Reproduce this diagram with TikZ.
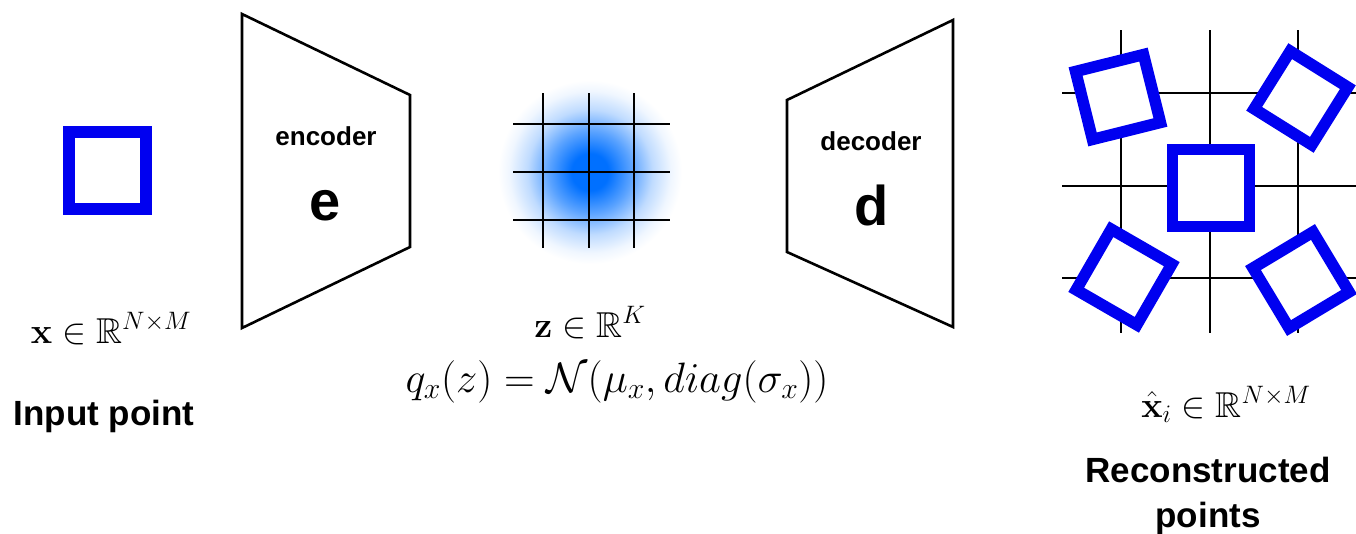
\RequirePackage{fix-cm}
\documentclass[tikz,border=0pt]{standalone}
\usepackage{amssymb}
\usepackage[no-math]{fontspec}
\DeclareFontFamily{U}{msb}{}
\DeclareFontShape{U}{msb}{m}{n}{<->msbm10}{}
\newfontfamily\labfont{Liberation Sans}
\definecolor{sqblue}{RGB}{0,0,240}
\definecolor{blobc}{RGB}{0,112,255}
\pgfdeclareradialshading{blob}{\pgfpoint{0bp}{0bp}}{color(0bp)=(blobc); color(5bp)=(blobc); color(11bp)=(blobc!65!white); color(17bp)=(blobc!25!white); color(22bp)=(blobc!6!white); color(25bp)=(white); color(50bp)=(white)}
\begin{document}
\begin{tikzpicture}[x=1pt,y=-1pt,
  sq/.style={draw=sqblue, line width=11.5pt, fill=white, minimum size=70pt, inner sep=0pt, outer sep=0pt},
  lab/.style={font=\labfont\bfseries\fontsize{35}{45}\selectfont, anchor=base, inner sep=0pt},
  small/.style={font=\labfont\bfseries\fontsize{26}{30}\selectfont, anchor=base, inner sep=0pt},
  big/.style={font=\labfont\bfseries\fontsize{56}{60}\selectfont, anchor=base, inner sep=0pt},
  mth/.style={font=\fontsize{36}{40}\selectfont, anchor=base, inner sep=0pt},
  gl/.style={line width=2pt, black},
  trap/.style={line width=2.6pt, black, line join=miter}]
\useasboundingbox[fill=white] (0,0) rectangle (1356,533);

% input
\node[sq, line width=12pt, minimum size=77pt] (in0) at (107.5,170.5) {};
\node[mth] (xin) at (111,343) {$\mathbf{x}\in\mathbb{R}^{N\times M}$};
\node[lab] (inlab) at (104,425) {Input point};

% encoder
\draw[trap] (242,14) -- (410,95) -- (410,247) -- (242,328) -- cycle;
\node[small] (enc) at (326,145) {encoder};
\node[big] (e) at (325,220) {e};

% latent
\shade[shading=blob] (590,172) circle (92);
\foreach \x in {543,589,634} \draw[gl] (\x,93) -- (\x,248);
\foreach \y in {124,172,220} \draw[gl] (513,\y) -- (670,\y);
\node[mth] (zlab) at (590,337) {$\mathbf{z}\in\mathbb{R}^{K}$};
\node[mth, font=\fontsize{42.5}{46}\selectfont] (qlab) at (617,392) {$q_x(z)=\mathcal{N}(\mu_x, diag(\sigma_x))$};

% decoder
\draw[trap] (787,100) -- (953,20) -- (953,327) -- (787,252) -- cycle;
\node[small] (dec) at (871,150) {decoder};
\node[big] (d) at (872,225) {d};

% reconstructed
\foreach \x in {1121,1210,1298} \draw[gl] (\x,30) -- (\x,333);
\foreach \y in {93,186,278} \draw[gl] (1062,\y) -- (1356,\y);
\node[sq, minimum size=77pt] (r0) at (1211,188) {};
\node[sq, rotate=14] (r1) at (1118,97) {};
\node[sq, rotate=-32, minimum size=68pt] (r2) at (1301,98) {};
\node[sq, rotate=-30] (r3) at (1124,277) {};
\node[sq, rotate=31] (r4) at (1301,280) {};
\node[mth] (xhat) at (1226,417) {$\hat{\mathbf{x}}_i\in\mathbb{R}^{N\times M}$};
\node[lab] (rec1) at (1208,482) {Reconstructed};
\node[lab] (rec2) at (1208,527) {points};
\end{tikzpicture}
\end{document}
